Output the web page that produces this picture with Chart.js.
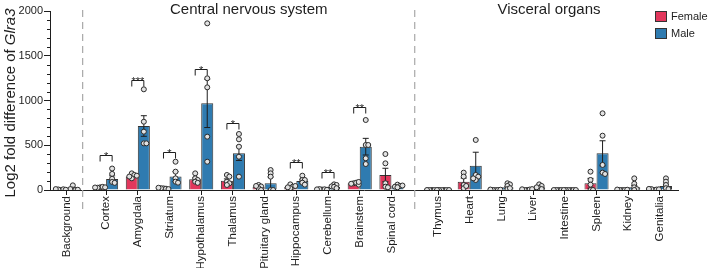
<!DOCTYPE html>
<html>
<head>
<meta charset="utf-8">
<script src="https://cdn.jsdelivr.net/npm/chart.js@4.4.0/dist/chart.umd.min.js"></script>
<style>
  html, body { margin: 0; padding: 0; background: #fff; }
  #wrap { width: 708px; height: 268px; position: relative; }
</style>
</head>
<body>
<div id="wrap"><canvas id="chart"></canvas></div>
<script>
// tissues, and which block each one sits in (0 = background, 1 = CNS, 2 = visceral)
const categories = ['Background', 'Cortex', 'Amygdala', 'Striatum', 'Hypothalamus', 'Thalamus',
  'Pituitary gland', 'Hippocampus', 'Cerebellum', 'Brainstem', 'Spinal cord',
  'Thymus', 'Heart', 'Lung', 'Liver', 'Intestine', 'Spleen', 'Kidney', 'Genitalia'];
const groupOf = [0, 1, 1, 1, 1, 1, 1, 1, 1, 1, 1, 2, 2, 2, 2, 2, 2, 2, 2];
const groupTitles = ['', 'Central nervous system', 'Visceral organs'];

const femaleMean = [6, 30, 150, 18, 120, 104, 37, 37, 7, 75, 168, 0, 93, 2, 5, 0, 75, 2, 7];
const femaleSem = [4, 4, 12, 3, 15, 20, 10, 8, 2, 8, 75, 0, 40, 1, 3, 0, 55, 1, 3];
const maleMean = [18, 123, 715, 150, 968, 410, 75, 100, 37, 484, 45, 0, 272, 30, 30, 0, 410, 30, 45];
const maleSem = [12, 35, 115, 55, 270, 80, 70, 20, 8, 93, 10, 0, 150, 10, 12, 0, 140, 20, 20];

const femalePoints = [
  [0, 8, 6, 3, 10], [30, 35, 25, 30, 28], [186, 168, 130, 150, 160], [18, 15, 20, 10, 25],
  [186, 130, 112, 93, 80], [168, 150, 93, 75, 56], [56, 40, 20, 0, 45], [63, 37, 20, 30, 45],
  [5, 8, 10, 3, 7], [75, 82, 70, 60, 90], [402, 298, 75, 37, 30], [0, 0, 0, 0, 0],
  [194, 150, 56, 20, 45], [0, 0, 0, 3, 5], [0, 5, 0, 10, 8], [0, 0, 0, 0, 0],
  [205, 112, 0, 0, 60], [0, 0, 0, 3, 5], [0, 5, 10, 8, 12]
];
const malePoints = [
  [52, 5, 0, 10, 3], [240, 180, 125, 90, 80], [1125, 763, 652, 521, 521], [316, 205, 130, 93, 82],
  [1862, 1248, 1147, 596, 316], [626, 566, 484, 372, 149], [223, 186, 149, 0, 0], [160, 112, 112, 82, 60],
  [63, 56, 40, 35, 20], [782, 503, 503, 354, 290], [60, 45, 37, 30, 50], [0, 0, 0, 0, 0],
  [559, 168, 149, 112, 130], [75, 63, 45, 10, 20], [63, 45, 20, 10, 30], [0, 0, 0, 0, 0],
  [857, 607, 280, 194, 179], [130, 70, 30, 10, 0], [130, 93, 56, 20, 10]
];

// significance brackets: tissue, bracket height (y units), label
const sigCategory = ['Cortex', 'Amygdala', 'Striatum', 'Hypothalamus', 'Thalamus', 'Hippocampus', 'Cerebellum', 'Brainstem'];
const sigLevel = [391, 1229, 428, 1352, 745, 309, 197, 924];
const sigStars = ['*', '***', '*', '*', '*', '**', '**', '**'];

const FONT = '"Liberation Sans", Arial, sans-serif';
const INK = '#1e1e1e';

// x positions: one unit per tissue, plus a little extra room between blocks
const groupGap = [0, 0.24, 0.71];
const xPos = categories.map((c, i) => i + groupGap[groupOf[i]]);
const BAR_SHIFT = 0.19;

// rough pixel sizes of one axis unit, only used to lay the dots out as a small swarm
const PX_PER_X = 31.7, PX_PER_Y = 179 / 2000;
const MIN_DIST = 2.5, STEP = 2.5;

function swarm(values, centre) {
  const placed = [];
  return values.map(v => {
    const py = v * PX_PER_Y;
    for (let k = 0; k < 40; k++) {
      const off = (k % 2 ? 1 : -1) * Math.ceil(k / 2) * STEP;
      if (placed.every(p => Math.hypot(p.px - off, p.py - py) >= MIN_DIST)) {
        placed.push({ px: off, py });
        return { x: centre + off / PX_PER_X, y: v };
      }
    }
    return { x: centre, y: v };
  });
}

const femalePts = [], malePts = [];
categories.forEach((c, i) => {
  femalePts.push(...swarm(femalePoints[i], xPos[i] - BAR_SHIFT));
  malePts.push(...swarm(malePoints[i], xPos[i] + BAR_SHIFT));
});

const errorBars = {
  id: 'errorBars',
  afterDatasetDraw(chart, args) {
    const ds = chart.data.datasets[args.index];
    if (!ds.sem) return;
    const y = chart.scales.y, ctx = chart.ctx;
    ctx.save();
    ctx.strokeStyle = INK;
    ctx.lineWidth = 1;
    args.meta.data.forEach((bar, i) => {
      const s = ds.sem[i];
      if (!s) return;
      const m = ds.data[i].y;
      const top = y.getPixelForValue(m + s), bot = y.getPixelForValue(Math.max(0, m - s));
      ctx.beginPath();
      ctx.moveTo(bar.x, top); ctx.lineTo(bar.x, bot);
      ctx.moveTo(bar.x - 3, top); ctx.lineTo(bar.x + 3, top);
      ctx.moveTo(bar.x - 3, bot); ctx.lineTo(bar.x + 3, bot);
      ctx.stroke();
    });
    ctx.restore();
  }
};

const decorations = {
  id: 'decorations',
  afterDraw(chart) {
    const { ctx, scales: { x, y }, chartArea } = chart;
    ctx.save();

    // minor y ticks
    ctx.strokeStyle = INK;
    ctx.lineWidth = 1;
    ctx.beginPath();
    for (let v = 100; v < 2000; v += 100) {
      if (v % 500 === 0) continue;
      const py = Math.round(y.getPixelForValue(v)) + 0.5;
      ctx.moveTo(chartArea.left - 3, py); ctx.lineTo(chartArea.left, py);
    }
    ctx.stroke();

    // dashed block separators
    const seps = [xPos[0] + 0.5, (xPos[10] + xPos[11]) / 2];
    ctx.strokeStyle = '#a8a8a8';
    ctx.lineWidth = 1.2;
    ctx.setLineDash([7, 5]);
    seps.forEach(v => {
      const px = x.getPixelForValue(v);
      ctx.beginPath();
      ctx.moveTo(px, chartArea.top - 1); ctx.lineTo(px, chartArea.bottom + 20);
      ctx.stroke();
    });
    ctx.setLineDash([]);

    // block titles
    ctx.fillStyle = INK;
    ctx.font = '15px ' + FONT;
    ctx.textAlign = 'center';
    ctx.textBaseline = 'alphabetic';
    [1, 2].forEach(g => {
      const idx = xPos.filter((p, i) => groupOf[i] === g);
      const mid = (x.getPixelForValue(idx[0]) + x.getPixelForValue(idx[idx.length - 1])) / 2;
      ctx.fillText(groupTitles[g], mid, 14);
    });

    // significance brackets
    ctx.strokeStyle = INK;
    ctx.lineWidth = 1;
    ctx.font = '11px ' + FONT;
    sigCategory.forEach((c, k) => {
      const i = categories.indexOf(c);
      const x1 = x.getPixelForValue(xPos[i] - BAR_SHIFT), x2 = x.getPixelForValue(xPos[i] + BAR_SHIFT);
      const py = Math.round(y.getPixelForValue(sigLevel[k])) + 0.5;
      ctx.beginPath();
      ctx.moveTo(x1, py + 6); ctx.lineTo(x1, py); ctx.lineTo(x2, py); ctx.lineTo(x2, py + 6);
      ctx.stroke();
      ctx.fillText(sigStars[k], (x1 + x2) / 2, py + 4);
    });

    // y axis title with italic gene name
    ctx.translate(11, 103);
    ctx.rotate(-Math.PI / 2);
    const a = 'Log2 fold difference of ', b = 'Glra3';
    ctx.font = '15px ' + FONT;
    const wa = ctx.measureText(a).width;
    ctx.font = 'italic 15px ' + FONT;
    const wb = ctx.measureText(b).width;
    ctx.textAlign = 'left';
    ctx.textBaseline = 'middle';
    ctx.font = '15px ' + FONT;
    ctx.fillText(a, -(wa + wb) / 2, 0);
    ctx.font = 'italic 15px ' + FONT;
    ctx.fillText(b, -(wa + wb) / 2 + wa, 0);
    ctx.setTransform(1, 0, 0, 1, 0, 0);

    // legend
    ctx.font = '11px ' + FONT;
    ctx.textAlign = 'left';
    ctx.textBaseline = 'middle';
    chart.data.datasets.filter(d => d.type === 'bar').forEach((d, k) => {
      const top = 11 + k * 17;
      ctx.fillStyle = d.backgroundColor;
      ctx.fillRect(655, top, 12, 11);
      ctx.strokeStyle = '#333';
      ctx.strokeRect(655.5, top + 0.5, 11, 10);
      ctx.fillStyle = INK;
      ctx.fillText(d.label, 671, top + 6);
    });

    ctx.restore();
  }
};

Chart.defaults.font.family = FONT;
Chart.defaults.color = INK;

new Chart(document.getElementById('chart'), {
  type: 'bar',
  data: {
    datasets: [
      {
        type: 'bar', label: 'Female', order: 1,
        data: categories.map((c, i) => ({ x: xPos[i], y: femaleMean[i] })),
        sem: femaleSem,
        backgroundColor: '#E2375C', borderColor: '#333', borderWidth: 1,
        categoryPercentage: 0.76, barPercentage: 1
      },
      {
        type: 'bar', label: 'Male', order: 1,
        data: categories.map((c, i) => ({ x: xPos[i], y: maleMean[i] })),
        sem: maleSem,
        backgroundColor: '#2F7BB0', borderColor: '#333', borderWidth: 1,
        categoryPercentage: 0.76, barPercentage: 1
      },
      {
        type: 'scatter', label: 'Female points', order: 0, data: femalePts,
        pointRadius: 2.5, pointBackgroundColor: '#e2e2e2', pointBorderColor: '#2a2a2a', pointBorderWidth: 1
      },
      {
        type: 'scatter', label: 'Male points', order: 0, data: malePts,
        pointRadius: 2.5, pointBackgroundColor: '#e2e2e2', pointBorderColor: '#2a2a2a', pointBorderWidth: 1
      }
    ]
  },
  options: {
    responsive: true,
    maintainAspectRatio: false,
    animation: false,
    layout: { padding: { top: 11, right: 30, bottom: 0, left: 0 } },
    plugins: { legend: { display: false }, tooltip: { enabled: false } },
    scales: {
      x: {
        type: 'linear',
        min: -0.53,
        max: 19.28,
        offset: false,
        afterBuildTicks: s => { s.ticks = xPos.map(v => ({ value: v })); },
        afterFit: s => { s.height = 78; },
        grid: { display: true, offset: false, drawOnChartArea: false, drawTicks: true, tickLength: 5, tickColor: INK },
        border: { display: true, color: INK, width: 1 },
        ticks: {
          autoSkip: false, minRotation: 90, maxRotation: 90, padding: 1,
          font: { size: 11.5 }, color: INK,
          callback: v => { const i = xPos.indexOf(v); return i >= 0 ? categories[i] : ''; }
        }
      },
      y: {
        min: 0,
        max: 2000,
        afterFit: s => { s.width = 50; },
        grid: { display: true, drawOnChartArea: false, drawTicks: true, tickLength: 6, tickColor: INK },
        border: { display: true, color: INK, width: 1 },
        ticks: { stepSize: 500, padding: 1, font: { size: 11 }, color: INK, callback: v => String(v) }
      }
    }
  },
  plugins: [errorBars, decorations]
});
</script>
</body>
</html>
